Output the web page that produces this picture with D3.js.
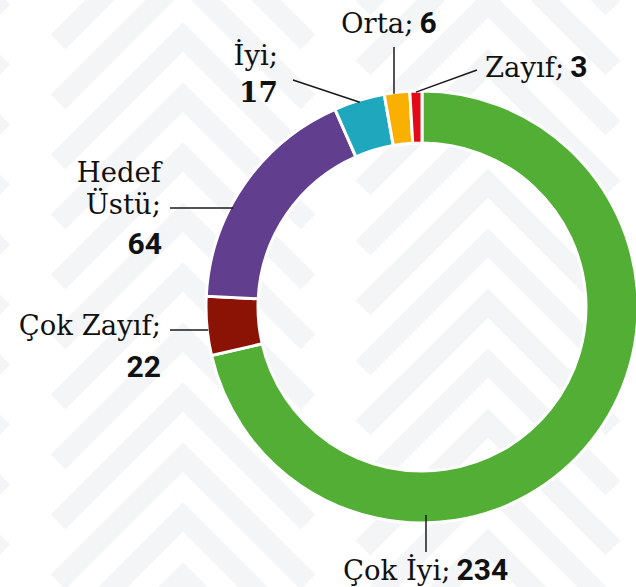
<!DOCTYPE html>
<html>
<head>
<meta charset="utf-8">
<script src="https://cdn.jsdelivr.net/npm/d3@7"></script>
<style>
  html, body { margin: 0; padding: 0; background: #fff; }
  svg { display: block; }
</style>
</head>
<body>
<div id="chart"></div>
<script>
const width = 636,
    height = 587;

// data
const categories = ["Çok İyi", "Çok Zayıf", "Hedef Üstü", "İyi", "Orta", "Zayıf"];
const values = [234, 22, 64, 17, 6, 3];
// share of the ring each slice takes in the picture (percent)
const sliceShares = [71.4, 4.4, 17.6, 3.8, 1.9, 0.9];
const colors = ["#52ae34", "#8a1306", "#623f8e", "#1fa8bd", "#f9b000", "#e20a17"];

// label placement (layout only)
// rows: tokens "name" = full name + ";", "w0" = first word, "w1" = rest + ";", "value"
const labelLayout = [
    { rows: [{ tokens: ["name", "value"], x: 343, y: 580, anchor: "start" }], lead: { kind: "v", x: 426, y: 552, inset: 8 } },
    { rows: [{ tokens: ["name"], x: 161, y: 335, anchor: "end" }, { tokens: ["value"], x: 161, y: 377, anchor: "end" }], lead: { kind: "h", x: 170, y: 330, inset: 1 } },
    { rows: [{ tokens: ["w0"], x: 161, y: 182, anchor: "end" }, { tokens: ["w1"], x: 161, y: 214, anchor: "end" }, { tokens: ["value"], x: 162, y: 254, anchor: "end" }], lead: { kind: "h", x: 170, y: 208, inset: 3 } },
    { rows: [{ tokens: ["name"], x: 278, y: 65, anchor: "end" }, { tokens: ["value"], x: 278, y: 102, anchor: "end", serifValue: true }], lead: { kind: "mid", x: 293, y: 80, inset: 2 } },
    { rows: [{ tokens: ["name", "value"], x: 341, y: 33, anchor: "start" }], lead: { kind: "v", x: 394, y: 47, inset: 1 } },
    { rows: [{ tokens: ["name", "value"], x: 485, y: 77, anchor: "start" }], lead: { kind: "mid", x: 477, y: 70, inset: 1 } }
];

const cx = 422, cy = 307, outerR = 216, innerR = 164;

const svg = d3.select("#chart")
    .append("svg")
    .attr("width", width)
    .attr("height", height);

// background chevrons
svg.append("rect").attr("width", width).attr("height", height).attr("fill", "#fff");
const bg = svg.append("g").attr("fill", "none").attr("stroke", "#f4f5f7").attr("stroke-width", 21);
const columns = [{ x: -122, phase: 7 }, { x: 183, phase: 37 }, { x: 488, phase: 3 }, { x: 793, phase: 37 }];
columns.forEach(c => {
    for (let ay = c.phase - 600; ay < height + 60; ay += 60) {
        bg.append("polyline")
            .attr("points", [[c.x - 125, ay + 125], [c.x, ay], [c.x + 125, ay + 125]].map(p => p.join(",")).join(" "));
    }
});

const data = categories.map((c, i) => ({ name: c, value: values[i], share: sliceShares[i], color: colors[i] }));

const pie = d3.pie().sort(null).value(d => d.share);
const arcs = pie(data);
const arc = d3.arc().innerRadius(innerR).outerRadius(outerR);

const g = svg.append("g").attr("transform", `translate(${cx},${cy})`);

g.selectAll("path.slice")
    .data(arcs)
    .join("path")
    .attr("class", "slice")
    .attr("d", arc)
    .attr("fill", d => d.data.color)
    .attr("stroke", "#fff")
    .attr("stroke-width", 3);

// leader lines
const lines = svg.append("g").attr("stroke", "#1a1a1a").attr("stroke-width", 1.5);
arcs.forEach((a, i) => {
    const L = labelLayout[i].lead;
    const r = outerR - L.inset;
    let ex, ey;
    if (L.kind === "h") {
        ex = cx - Math.sqrt(r * r - (L.y - cy) ** 2);
        ey = L.y;
    } else if (L.kind === "v") {
        ex = L.x;
        const dy = Math.sqrt(r * r - (L.x - cx) ** 2);
        ey = L.y < cy ? cy - dy : cy + dy;
    } else {
        const mid = (a.startAngle + a.endAngle) / 2;
        ex = cx + r * Math.sin(mid);
        ey = cy - r * Math.cos(mid);
    }
    lines.append("line")
        .attr("x1", L.x).attr("y1", L.y)
        .attr("x2", ex).attr("y2", ey);
});

// labels
const serif = "'DejaVu Serif', serif";
const bold = "Roboto, 'Liberation Sans', sans-serif";
const labels = svg.append("g");

data.forEach((d, i) => {
    const words = d.name.split(" ");
    labelLayout[i].rows.forEach(row => {
        const t = labels.append("text")
            .attr("x", row.x)
            .attr("y", row.y)
            .attr("text-anchor", row.anchor)
            .attr("fill", "#111");
        row.tokens.forEach((tok, k) => {
            if (tok === "value") {
                t.append("tspan")
                    .attr("dx", k > 0 ? 6 : 0)
                    .style("font-family", row.serifValue ? serif : bold)
                    .style("font-weight", 700)
                    .style("font-size", row.serifValue ? "28px" : "30px")
                    .text(d.value);
            } else {
                const txt = tok === "name" ? d.name + ";"
                    : tok === "w0" ? words[0]
                    : words.slice(1).join(" ") + ";";
                t.append("tspan")
                    .style("font-family", serif)
                    .style("font-size", "27.5px")
                    .text(txt);
            }
        });
    });
});
</script>
</body>
</html>
